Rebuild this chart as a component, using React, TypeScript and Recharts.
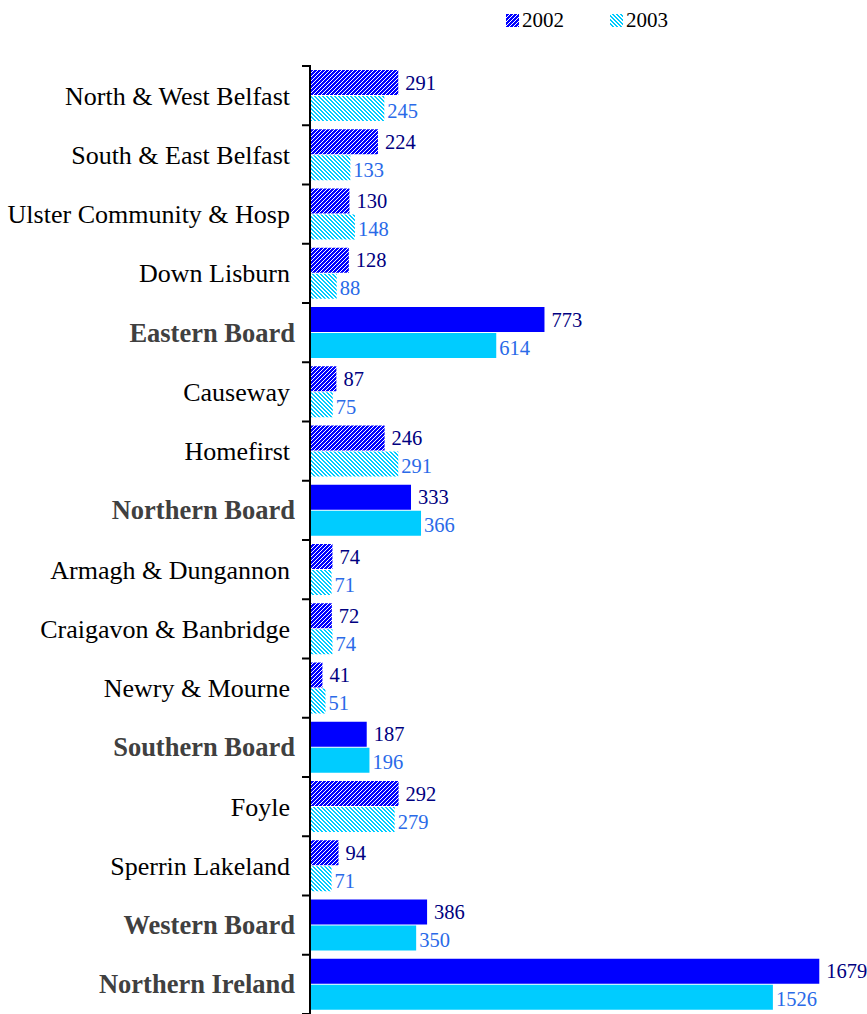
import React from 'react';
import { BarChart, Bar, XAxis, YAxis, Cell, LabelList } from 'recharts';

const categories = [
  'North & West Belfast',
  'South & East Belfast',
  'Ulster Community & Hosp',
  'Down Lisburn',
  'Eastern Board',
  'Causeway',
  'Homefirst',
  'Northern Board',
  'Armagh & Dungannon',
  'Craigavon & Banbridge',
  'Newry & Mourne',
  'Southern Board',
  'Foyle',
  'Sperrin Lakeland',
  'Western Board',
  'Northern Ireland',
];
const values2002 = [291, 224, 130, 128, 773, 87, 246, 333, 74, 72, 41, 187, 292, 94, 386, 1679];
const values2003 = [245, 133, 148, 88, 614, 75, 291, 366, 71, 74, 51, 196, 279, 71, 350, 1526];
const totals = ['Eastern Board', 'Northern Board', 'Southern Board', 'Western Board', 'Northern Ireland'];

const data = categories.map((name, i) => ({ name, y2002: values2002[i], y2003: values2003[i] }));

const BLUE = '#0000ff';
const CYAN = '#00ccff';
const serif = '"Liberation Serif", "Times New Roman", serif';

// pixel hatch: one white pixel per row, stepping left or right
const hatchCells = (dir: 1 | -1) =>
  [0, 1, 2, 3].map((r) => (dir > 0 ? 3 - r : r));

const CategoryTick = (props: any) => {
  const { x, y, payload, index, visibleTicksCount } = props;
  const band = 948 / categories.length;
  const bold = totals.includes(payload.value);
  const last = index === (visibleTicksCount ?? categories.length) - 1;
  return (
    <g>
      <line x1={x} x2={x + 9} y1={y - band / 2} y2={y - band / 2} stroke="#000" strokeWidth={2} />
      {last && <line x1={x} x2={x + 9} y1={y + band / 2} y2={y + band / 2} stroke="#000" strokeWidth={2} />}
      <text
        x={bold ? x - 7 : x - 12}
        y={y}
        dy={9}
        textAnchor="end"
        fontFamily={serif}
        fontSize={bold ? 26.5 : 26}
        fontWeight={bold ? 'bold' : 'normal'}
        fill={bold ? '#404040' : '#000'}
      >
        {payload.value}
      </text>
    </g>
  );
};

const makeLabel = (color: string, offset: number, dy: number) => (props: any) => {
  const { x, y, width, height, value } = props;
  return (
    <text x={x + width + offset} y={y + height / 2 + dy} fontFamily={serif} fontSize={20.5} fill={color}>
      {value}
    </text>
  );
};

const LegendBox = () => (
  <div style={{ position: 'absolute', left: 506, top: 8, display: 'flex', fontFamily: serif, fontSize: 21 }}>
    <div style={{ display: 'flex', alignItems: 'center', width: 104 }}>
      <svg width={13} height={13} style={{ marginRight: 3 }}>
        <rect width={13} height={13} fill="url(#hatch2002)" />
      </svg>
      2002
    </div>
    <div style={{ display: 'flex', alignItems: 'center' }}>
      <svg width={13} height={13} style={{ marginRight: 3 }}>
        <rect width={13} height={13} fill="url(#hatch2003)" />
      </svg>
      2003
    </div>
  </div>
);

export default function App() {
  return (
    <div style={{ position: 'absolute', left: 0, top: 0, width: 867, height: 1014, background: '#fff' }}>
      <LegendBox />
      <BarChart
        width={867}
        height={1014}
        data={data}
        layout="vertical"
        margin={{ top: 66, right: 11, bottom: 0, left: 0 }}
        barCategoryGap={4}
        barGap={1}
      >
        <defs>
          <pattern id="hatch2002" width={4} height={4} patternUnits="userSpaceOnUse">
            <rect width={4} height={4} fill={BLUE} />
            {hatchCells(1).map((c, r) => (
              <rect key={r} x={c} y={r} width={1} height={1} fill="#fff" />
            ))}
          </pattern>
          <pattern id="hatch2003" width={4} height={4} patternUnits="userSpaceOnUse">
            <rect width={4} height={4} fill={CYAN} />
            {hatchCells(-1).map((c, r) => (
              <rect key={r} x={c} y={r} width={2} height={1} fill="#fff" />
            ))}
            <rect x={0} y={3} width={1} height={1} fill="#fff" />
          </pattern>
        </defs>
        <XAxis type="number" domain={[0, 1800]} hide />
        <YAxis
          type="category"
          dataKey="name"
          width={310}
          interval={0}
          tickLine={false}
          axisLine={{ stroke: '#000', strokeWidth: 2 }}
          tick={<CategoryTick />}
        />
        <Bar dataKey="y2002" isAnimationActive={false}>
          {data.map((d) => (
            <Cell key={d.name} fill={totals.includes(d.name) ? BLUE : 'url(#hatch2002)'} />
          ))}
          <LabelList dataKey="y2002" content={makeLabel('#000080', 7, 7)} />
        </Bar>
        <Bar dataKey="y2003" isAnimationActive={false}>
          {data.map((d) => (
            <Cell key={d.name} fill={totals.includes(d.name) ? CYAN : 'url(#hatch2003)'} />
          ))}
          <LabelList dataKey="y2003" content={makeLabel('#2a6ae8', 3, 9)} />
        </Bar>
      </BarChart>
    </div>
  );
}
